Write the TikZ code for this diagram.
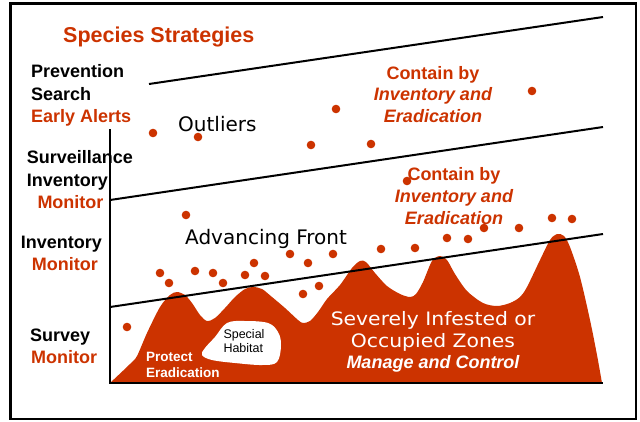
\documentclass[tikz,border=0pt]{standalone}
\usepackage{fontspec}
\setmainfont{Liberation Sans}
\newfontfamily\vfont{DejaVu Sans}
\newfontfamily\vfontw[FakeStretch=1.1]{DejaVu Sans}
\definecolor{rust}{RGB}{204,51,0}
\begin{document}
\begin{tikzpicture}[x=1pt,y=-1pt,
  lbl/.style={anchor=base west, inner sep=0pt, font=\fontsize{18}{20}\selectfont\bfseries},
  ctr/.style={anchor=base, inner sep=0pt, text=rust, font=\fontsize{18}{20}\selectfont\bfseries},
  ctri/.style={anchor=base, inner sep=0pt, text=rust, font=\fontsize{18}{20}\selectfont\bfseries\itshape},
  big/.style={anchor=base west, inner sep=0pt, font=\vfont\fontsize{20}{22}\selectfont},
  zone/.style={anchor=base, inner sep=0pt, text=white, font=\vfontw\fontsize{18.5}{20}\selectfont},
  dot/.style={fill=rust},
  rule/.style={line width=2pt}]
\useasboundingbox (0,0) rectangle (640,421);
\draw[line width=2.5pt] (10.5,3.5) rectangle (636,419);

% infested mountains
\fill[rust] plot[smooth, tension=0.5] coordinates {(110,383) (130,364) (137,356) (147,333) (160,307) (170,295) (177,292) (185,295) (192,303) (200,315) (207,321) (215,318) (225,308) (235,297) (245,289) (253,287) (262,289) (272,297) (285,308) (298,320) (303,323) (310,321) (318,312) (327,299) (340,285) (352,268) (360,261) (366,262) (375,273) (387,286) (400,294) (410,297) (416,294) (423,282) (432,261) (440,256) (447,260) (455,274) (467,291) (483,303) (497,306) (510,303) (520,297) (527,287) (540,260) (550,240) (557,234) (564,236) (570,247) (580,277) (590,320) (597,355) (602,383)} -- cycle;
% special habitat blob
\fill[white] plot[smooth cycle, tension=0.6] coordinates {(227,323) (245,321) (268,323) (278,332) (281,345) (277,362) (262,365) (235,363) (212,360) (202,355) (205,348) (215,337)};

% zone lines
\draw[rule] (149,84) -- (603,17);
\draw[rule] (110,200) -- (603,127);
\draw[rule] (110,307) -- (603,234);
% axes
\draw[rule] (110,129) -- (110,383) -- (603,383);

% dots
\foreach \p in {(153,133),(198,137),(311,145),(336,109),(371,144),(532,91),(407,181),
  (186,215),(160,273),(169,283),(195,271),(213,273),(223,283),(245,275),(254,263),(265,276),
  (290,254),(308,263),(303,294),(319,286),(333,254),(381,249),(415,248),(447,238),(468,239),
  (484,228),(519,228),(552,218),(572,219),(127,327)}
  \fill[dot] \p circle (4.3pt);

% title
\node[anchor=base west, inner sep=0pt, text=rust, font=\fontsize{21.5}{24}\selectfont\bfseries] (title) at (63,42) {Species Strategies};

% left labels
\node[lbl] (prev) at (31,77.3) {Prevention};
\node[lbl] (search) at (31,100.5) {Search};
\node[lbl, text=rust] (early) at (31,122.7) {Early Alerts};
\node[lbl] (surv) at (26.7,163.3) {Surveillance};
\node[lbl] (inva) at (26.7,186.7) {Inventory};
\node[lbl, text=rust] (mona) at (37.3,208) {Monitor};
\node[lbl] (invb) at (20.7,248.3) {Inventory};
\node[lbl, text=rust] (monb) at (31.7,270) {Monitor};
\node[lbl] (survey) at (30,341) {Survey};
\node[lbl, text=rust] (monc) at (31,363.3) {Monitor};

% band labels
\node[big] (outl) at (178,131.7) {Outliers};
\node[big] (front) at (185,244.3) {Advancing Front};

\node[ctr] (conta) at (433,79) {Contain by};
\node[ctri] (conta2) at (433,100) {Inventory and};
\node[ctri] (conta3) at (433,122.7) {Eradication};

\node[ctr] (contb) at (454,180.7) {Contain by};
\node[ctri] (contb2) at (454,202.3) {Inventory and};
\node[ctri] (contb3) at (454,224.3) {Eradication};

\node[zone] (sev) at (433,325.7) {Severely Infested or};
\node[zone] (occ) at (433,347.7) {Occupied Zones};
\node[anchor=base, inner sep=0pt, text=white, font=\fontsize{18}{20}\selectfont\bfseries\itshape] (man) at (433,368.3) {Manage and Control};

\node[anchor=base west, inner sep=0pt, font=\fontsize{12.5}{14}\selectfont] (spec) at (223.3,338.3) {Special};
\node[anchor=base west, inner sep=0pt, font=\fontsize{12.5}{14}\selectfont] (hab) at (223.3,352.3) {Habitat};

\node[anchor=base west, inner sep=0pt, text=white, font=\fontsize{13.5}{15}\selectfont\bfseries] (prot) at (146,361) {Protect};
\node[anchor=base west, inner sep=0pt, text=white, font=\fontsize{13.5}{15}\selectfont\bfseries] (erad) at (146,377.3) {Eradication};
\end{tikzpicture}
\end{document}
